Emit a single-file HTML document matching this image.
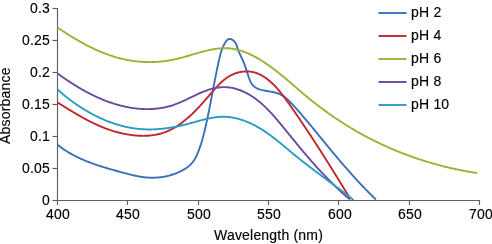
<!DOCTYPE html>
<html><head><meta charset="utf-8"><style>
html,body{margin:0;padding:0;background:#fff;}
body{width:492px;height:244px;position:relative;overflow:hidden;}
.t{position:absolute;font-family:"Liberation Sans",sans-serif;font-size:14px;line-height:15px;color:#000;will-change:transform;letter-spacing:0.2px;-webkit-text-stroke:0.15px #000;white-space:nowrap;transform-origin:50% 50%;}
.yl{right:442px;text-align:right;transform-origin:100% 50%;}
.xl{width:60px;text-align:center;}
.lg{left:411px;transform-origin:0 50%;}
.xt{left:214px;top:228px;transform-origin:0 50%;}
.yt{left:-31.7px;top:99px;width:75px;text-align:center;transform:rotate(-90deg);}
</style></head><body>
<svg width="492" height="244" viewBox="0 0 492 244" style="position:absolute;left:0;top:0"><g stroke="#5f5f5f" stroke-width="1.15" fill="none" ><path d="M57.5,8 V205 M57,200.5 H480"/><path d="M52.5,8.5 H57.5"/><path d="M52.5,40.5 H57.5"/><path d="M52.5,72.5 H57.5"/><path d="M52.5,104.5 H57.5"/><path d="M52.5,136.5 H57.5"/><path d="M52.5,168.5 H57.5"/><path d="M52.5,200.5 H57.5"/><path d="M127.5,200 V205"/><path d="M198.5,200 V205"/><path d="M268.5,200 V205"/><path d="M338.5,200 V205"/><path d="M409.5,200 V205"/><path d="M479.5,200 V205"/></g><path d="M57.54,144.78 L58.36,145.42 L59.18,146.05 L60.01,146.67 L60.84,147.28 L61.67,147.88 L62.51,148.46 L63.35,149.04 L64.20,149.61 L65.05,150.17 L65.90,150.72 L66.76,151.26 L67.62,151.79 L68.48,152.32 L69.35,152.83 L70.22,153.34 L71.09,153.84 L71.97,154.33 L72.85,154.81 L73.73,155.28 L74.62,155.75 L75.51,156.20 L76.40,156.65 L77.30,157.10 L78.20,157.53 L79.10,157.96 L80.00,158.38 L80.91,158.80 L81.82,159.21 L82.73,159.61 L83.65,160.00 L84.56,160.39 L85.48,160.78 L86.40,161.15 L87.33,161.53 L88.26,161.89 L89.18,162.25 L90.12,162.61 L91.05,162.96 L91.99,163.30 L92.92,163.64 L93.86,163.98 L94.80,164.31 L95.75,164.64 L96.69,164.96 L97.64,165.28 L98.59,165.59 L99.54,165.90 L100.49,166.21 L101.45,166.51 L102.40,166.81 L103.36,167.11 L104.32,167.40 L105.28,167.69 L106.24,167.98 L107.20,168.27 L108.17,168.55 L109.13,168.83 L110.10,169.11 L111.07,169.38 L112.04,169.66 L113.01,169.93 L113.98,170.20 L114.95,170.47 L115.92,170.74 L116.89,171.01 L117.87,171.27 L118.84,171.54 L119.82,171.80 L120.79,172.07 L121.77,172.33 L122.75,172.59 L123.72,172.86 L124.70,173.12 L125.68,173.38 L126.66,173.63 L127.64,173.89 L128.62,174.14 L129.60,174.39 L130.58,174.63 L131.56,174.87 L132.54,175.10 L133.53,175.33 L134.51,175.55 L135.49,175.76 L136.48,175.97 L137.47,176.16 L138.45,176.35 L139.44,176.53 L140.43,176.70 L141.41,176.85 L142.40,177.00 L143.39,177.13 L144.38,177.25 L145.37,177.36 L146.37,177.46 L147.36,177.54 L148.35,177.60 L149.35,177.66 L150.34,177.69 L151.33,177.72 L152.33,177.73 L153.32,177.72 L154.32,177.70 L155.31,177.66 L156.31,177.61 L157.30,177.54 L158.29,177.46 L159.28,177.37 L160.27,177.26 L161.26,177.13 L162.25,176.99 L163.24,176.83 L164.22,176.66 L165.20,176.48 L166.18,176.27 L167.16,176.06 L168.14,175.82 L169.11,175.57 L170.08,175.31 L171.05,175.03 L172.01,174.74 L172.97,174.43 L173.93,174.10 L174.88,173.76 L175.84,173.40 L176.78,173.02 L177.73,172.63 L178.67,172.23 L179.60,171.80 L180.52,171.36 L181.44,170.90 L182.34,170.43 L183.23,169.93 L184.11,169.42 L184.98,168.89 L185.83,168.33 L186.66,167.76 L187.47,167.16 L188.26,166.55 L189.03,165.91 L189.78,165.25 L190.50,164.56 L191.20,163.86 L191.87,163.13 L192.51,162.37 L193.12,161.59 L193.70,160.79 L194.24,159.96 L194.76,159.11 L195.26,158.24 L195.73,157.36 L196.17,156.46 L196.60,155.55 L197.02,154.63 L197.42,153.70 L197.81,152.77 L198.19,151.83 L198.57,150.90 L198.93,149.96 L199.28,149.01 L199.63,148.07 L199.96,147.12 L200.29,146.17 L200.61,145.21 L200.93,144.26 L201.23,143.30 L201.53,142.34 L201.82,141.38 L202.11,140.41 L202.39,139.45 L202.66,138.48 L202.93,137.51 L203.19,136.53 L203.45,135.56 L203.70,134.59 L203.95,133.61 L204.19,132.64 L204.43,131.66 L204.67,130.68 L204.90,129.70 L205.13,128.72 L205.35,127.74 L205.58,126.76 L205.80,125.78 L206.02,124.80 L206.23,123.82 L206.45,122.83 L206.66,121.85 L206.87,120.87 L207.08,119.89 L207.29,118.91 L207.50,117.92 L207.70,116.94 L207.91,115.96 L208.11,114.98 L208.31,114.00 L208.51,113.01 L208.71,112.03 L208.91,111.05 L209.10,110.06 L209.30,109.08 L209.49,108.10 L209.69,107.12 L209.88,106.13 L210.07,105.15 L210.27,104.17 L210.46,103.18 L210.65,102.20 L210.84,101.21 L211.03,100.23 L211.21,99.25 L211.40,98.26 L211.59,97.28 L211.78,96.29 L211.97,95.31 L212.15,94.33 L212.34,93.34 L212.53,92.36 L212.72,91.37 L212.90,90.39 L213.09,89.40 L213.28,88.42 L213.47,87.43 L213.66,86.45 L213.85,85.46 L214.04,84.47 L214.23,83.49 L214.42,82.50 L214.61,81.52 L214.80,80.53 L214.99,79.54 L215.18,78.56 L215.38,77.57 L215.57,76.59 L215.77,75.60 L215.96,74.61 L216.16,73.63 L216.36,72.64 L216.56,71.65 L216.76,70.66 L216.97,69.68 L217.17,68.69 L217.38,67.70 L217.58,66.71 L217.79,65.73 L218.00,64.74 L218.21,63.75 L218.43,62.76 L218.64,61.77 L218.86,60.78 L219.08,59.80 L219.30,58.81 L219.53,57.82 L219.76,56.84 L220.00,55.86 L220.25,54.88 L220.52,53.90 L220.79,52.93 L221.08,51.97 L221.39,51.01 L221.71,50.06 L222.06,49.12 L222.42,48.18 L222.81,47.26 L223.22,46.34 L223.65,45.43 L224.11,44.54 L224.60,43.66 L225.13,42.79 L225.68,41.93 L226.27,41.10 L226.90,40.35 L227.60,39.72 L228.36,39.26 L229.20,39.01 L230.12,39.01 L231.08,39.22 L232.04,39.61 L232.95,40.15 L233.78,40.80 L234.50,41.53 L235.12,42.34 L235.65,43.21 L236.12,44.13 L236.52,45.09 L236.89,46.07 L237.23,47.08 L237.56,48.10 L237.88,49.11 L238.22,50.11 L238.59,51.09 L238.97,52.05 L239.37,53.00 L239.78,53.93 L240.21,54.85 L240.64,55.76 L241.07,56.66 L241.51,57.56 L241.93,58.45 L242.36,59.34 L242.77,60.24 L243.16,61.13 L243.54,62.04 L243.91,62.95 L244.26,63.86 L244.60,64.78 L244.93,65.70 L245.25,66.63 L245.57,67.57 L245.88,68.51 L246.19,69.45 L246.50,70.40 L246.80,71.36 L247.11,72.32 L247.42,73.29 L247.74,74.26 L248.07,75.24 L248.40,76.23 L248.74,77.22 L249.10,78.21 L249.48,79.20 L249.87,80.18 L250.29,81.15 L250.74,82.08 L251.23,82.98 L251.76,83.83 L252.33,84.63 L252.96,85.37 L253.63,86.04 L254.35,86.66 L255.11,87.22 L255.91,87.73 L256.75,88.19 L257.62,88.61 L258.53,88.98 L259.46,89.32 L260.41,89.63 L261.39,89.90 L262.39,90.15 L263.40,90.38 L264.42,90.59 L265.45,90.78 L266.49,90.97 L267.52,91.14 L268.56,91.31 L269.60,91.48 L270.63,91.65 L271.65,91.84 L272.66,92.03 L273.66,92.23 L274.65,92.45 L275.62,92.70 L276.58,92.97 L277.52,93.27 L278.45,93.60 L279.35,93.97 L280.24,94.37 L281.10,94.82 L281.95,95.29 L282.78,95.80 L283.59,96.34 L284.39,96.91 L285.17,97.51 L285.94,98.13 L286.70,98.77 L287.45,99.43 L288.18,100.11 L288.91,100.81 L289.63,101.52 L290.34,102.24 L291.04,102.97 L291.74,103.71 L292.43,104.45 L293.12,105.20 L293.81,105.94 L294.49,106.69 L295.17,107.44 L295.85,108.19 L296.53,108.94 L297.20,109.70 L297.87,110.45 L298.54,111.21 L299.21,111.96 L299.87,112.72 L300.54,113.48 L301.20,114.24 L301.86,115.00 L302.51,115.76 L303.17,116.52 L303.82,117.29 L304.47,118.05 L305.12,118.81 L305.77,119.58 L306.42,120.35 L307.07,121.11 L307.71,121.88 L308.35,122.65 L309.00,123.42 L309.64,124.19 L310.28,124.96 L310.92,125.73 L311.56,126.50 L312.19,127.27 L312.83,128.04 L313.47,128.81 L314.10,129.59 L314.74,130.36 L315.37,131.13 L316.00,131.91 L316.64,132.68 L317.27,133.46 L317.90,134.23 L318.54,135.01 L319.17,135.78 L319.80,136.56 L320.44,137.33 L321.07,138.11 L321.71,138.88 L322.34,139.66 L322.97,140.44 L323.61,141.21 L324.24,141.99 L324.88,142.76 L325.52,143.54 L326.15,144.31 L326.79,145.09 L327.43,145.86 L328.06,146.64 L328.70,147.41 L329.34,148.19 L329.98,148.96 L330.62,149.74 L331.26,150.51 L331.90,151.28 L332.54,152.06 L333.19,152.83 L333.83,153.60 L334.47,154.37 L335.12,155.14 L335.76,155.91 L336.41,156.68 L337.06,157.45 L337.70,158.22 L338.35,158.99 L339.00,159.76 L339.65,160.52 L340.30,161.29 L340.96,162.05 L341.61,162.82 L342.26,163.58 L342.92,164.34 L343.57,165.11 L344.23,165.87 L344.89,166.63 L345.55,167.39 L346.21,168.15 L346.87,168.90 L347.53,169.66 L348.20,170.42 L348.86,171.17 L349.53,171.92 L350.19,172.68 L350.86,173.43 L351.53,174.18 L352.20,174.93 L352.87,175.67 L353.55,176.42 L354.22,177.17 L354.90,177.91 L355.58,178.65 L356.25,179.39 L356.93,180.13 L357.62,180.87 L358.30,181.61 L358.98,182.34 L359.67,183.08 L360.36,183.81 L361.05,184.54 L361.74,185.27 L362.43,186.00 L363.12,186.72 L363.82,187.45 L364.52,188.17 L365.21,188.89 L365.91,189.61 L366.62,190.33 L367.32,191.04 L368.03,191.76 L368.73,192.47 L369.44,193.18 L370.15,193.89 L370.87,194.60 L371.58,195.30 L372.30,196.00 L373.01,196.70 L373.73,197.40 L374.46,198.10 L375.18,198.79 L375.91,199.49" fill="none" stroke="#3d6fb6" stroke-width="1.9" stroke-linejoin="round"/><path d="M57.45,102.43 L58.13,102.85 L58.81,103.27 L59.49,103.69 L60.16,104.11 L60.84,104.53 L61.51,104.95 L62.19,105.37 L62.86,105.79 L63.53,106.21 L64.20,106.62 L64.88,107.04 L65.55,107.46 L66.22,107.87 L66.89,108.28 L67.56,108.70 L68.23,109.11 L68.90,109.52 L69.56,109.93 L70.23,110.33 L70.90,110.74 L71.57,111.15 L72.24,111.55 L72.91,111.95 L73.58,112.35 L74.25,112.75 L74.92,113.15 L75.58,113.55 L76.25,113.94 L76.92,114.33 L77.60,114.72 L78.27,115.11 L78.94,115.50 L79.61,115.88 L80.28,116.27 L80.95,116.65 L81.63,117.03 L82.30,117.40 L82.98,117.78 L83.65,118.15 L84.33,118.52 L85.01,118.89 L85.69,119.25 L86.37,119.62 L87.05,119.98 L87.73,120.34 L88.41,120.69 L89.10,121.04 L89.78,121.39 L90.47,121.74 L91.16,122.08 L91.85,122.43 L92.54,122.76 L93.23,123.10 L93.92,123.43 L94.62,123.76 L95.32,124.09 L96.01,124.41 L96.71,124.73 L97.42,125.05 L98.12,125.36 L98.83,125.67 L99.53,125.98 L100.24,126.28 L100.95,126.58 L101.67,126.88 L102.38,127.17 L103.10,127.46 L103.82,127.74 L104.54,128.02 L105.27,128.30 L106.00,128.57 L106.73,128.84 L107.46,129.11 L108.19,129.37 L108.93,129.63 L109.67,129.88 L110.41,130.13 L111.15,130.38 L111.90,130.62 L112.65,130.85 L113.40,131.09 L114.16,131.31 L114.92,131.54 L115.68,131.75 L116.44,131.97 L117.21,132.18 L117.98,132.38 L118.75,132.58 L119.53,132.77 L120.30,132.96 L121.08,133.15 L121.86,133.33 L122.64,133.50 L123.43,133.67 L124.21,133.83 L125.00,133.99 L125.78,134.14 L126.57,134.28 L127.36,134.42 L128.16,134.56 L128.95,134.68 L129.74,134.80 L130.53,134.92 L131.33,135.03 L132.12,135.13 L132.92,135.23 L133.71,135.31 L134.51,135.40 L135.30,135.47 L136.10,135.54 L136.89,135.60 L137.69,135.66 L138.48,135.70 L139.27,135.74 L140.07,135.78 L140.86,135.80 L141.65,135.82 L142.44,135.83 L143.23,135.83 L144.02,135.83 L144.80,135.81 L145.59,135.79 L146.37,135.76 L147.15,135.73 L147.93,135.68 L148.71,135.63 L149.48,135.57 L150.26,135.50 L151.03,135.42 L151.80,135.33 L152.56,135.23 L153.32,135.13 L154.09,135.01 L154.84,134.89 L155.60,134.76 L156.35,134.62 L157.10,134.46 L157.84,134.30 L158.59,134.14 L159.32,133.96 L160.06,133.77 L160.79,133.57 L161.52,133.36 L162.24,133.14 L162.96,132.91 L163.67,132.67 L164.39,132.43 L165.09,132.17 L165.80,131.90 L166.49,131.63 L167.19,131.34 L167.88,131.04 L168.57,130.74 L169.25,130.43 L169.93,130.11 L170.61,129.78 L171.28,129.44 L171.95,129.09 L172.61,128.73 L173.28,128.37 L173.93,128.00 L174.59,127.62 L175.24,127.23 L175.89,126.84 L176.53,126.44 L177.18,126.03 L177.81,125.61 L178.45,125.19 L179.08,124.76 L179.71,124.32 L180.34,123.88 L180.96,123.43 L181.58,122.97 L182.19,122.51 L182.81,122.04 L183.42,121.57 L184.03,121.09 L184.63,120.60 L185.24,120.11 L185.84,119.61 L186.43,119.11 L187.03,118.60 L187.62,118.09 L188.21,117.57 L188.80,117.05 L189.38,116.52 L189.96,115.99 L190.54,115.45 L191.12,114.91 L191.69,114.37 L192.27,113.82 L192.84,113.27 L193.41,112.71 L193.97,112.15 L194.54,111.59 L195.10,111.02 L195.66,110.45 L196.22,109.88 L196.77,109.30 L197.33,108.73 L197.88,108.14 L198.43,107.56 L198.98,106.98 L199.53,106.39 L200.07,105.80 L200.62,105.20 L201.16,104.61 L201.70,104.01 L202.24,103.42 L202.77,102.82 L203.31,102.22 L203.85,101.61 L204.38,101.01 L204.91,100.41 L205.44,99.80 L205.97,99.20 L206.50,98.59 L207.03,97.99 L207.55,97.38 L208.08,96.77 L208.60,96.17 L209.13,95.56 L209.65,94.95 L210.17,94.35 L210.69,93.74 L211.21,93.14 L211.73,92.53 L212.25,91.93 L212.77,91.33 L213.29,90.73 L213.81,90.14 L214.33,89.55 L214.85,88.96 L215.38,88.37 L215.90,87.79 L216.43,87.22 L216.96,86.64 L217.49,86.08 L218.03,85.52 L218.57,84.96 L219.11,84.41 L219.66,83.87 L220.21,83.33 L220.76,82.80 L221.32,82.28 L221.88,81.77 L222.45,81.27 L223.02,80.77 L223.59,80.28 L224.18,79.80 L224.77,79.34 L225.36,78.88 L225.96,78.43 L226.57,77.99 L227.18,77.57 L227.81,77.15 L228.44,76.75 L229.07,76.36 L229.72,75.98 L230.37,75.62 L231.03,75.27 L231.70,74.93 L232.38,74.60 L233.07,74.29 L233.76,74.00 L234.47,73.72 L235.18,73.45 L235.91,73.20 L236.64,72.97 L237.37,72.75 L238.11,72.54 L238.86,72.36 L239.62,72.18 L240.37,72.03 L241.13,71.89 L241.90,71.77 L242.67,71.67 L243.44,71.58 L244.21,71.52 L244.98,71.47 L245.76,71.43 L246.53,71.42 L247.30,71.42 L248.07,71.45 L248.85,71.49 L249.61,71.55 L250.38,71.63 L251.14,71.73 L251.90,71.85 L252.66,71.99 L253.41,72.15 L254.15,72.33 L254.89,72.54 L255.62,72.76 L256.35,73.00 L257.07,73.26 L257.78,73.54 L258.49,73.84 L259.19,74.15 L259.89,74.48 L260.58,74.83 L261.26,75.19 L261.93,75.57 L262.60,75.96 L263.26,76.36 L263.92,76.77 L264.57,77.20 L265.21,77.63 L265.85,78.08 L266.47,78.54 L267.10,79.00 L267.71,79.48 L268.32,79.96 L268.92,80.45 L269.52,80.94 L270.11,81.44 L270.69,81.95 L271.27,82.47 L271.85,83.00 L272.41,83.53 L272.97,84.06 L273.53,84.61 L274.08,85.15 L274.62,85.71 L275.17,86.27 L275.70,86.83 L276.23,87.40 L276.76,87.98 L277.28,88.56 L277.80,89.15 L278.31,89.74 L278.82,90.33 L279.33,90.93 L279.83,91.53 L280.33,92.14 L280.82,92.75 L281.31,93.36 L281.80,93.98 L282.28,94.60 L282.77,95.22 L283.25,95.85 L283.72,96.48 L284.20,97.11 L284.67,97.74 L285.14,98.38 L285.61,99.01 L286.07,99.65 L286.53,100.29 L287.00,100.93 L287.46,101.58 L287.91,102.22 L288.37,102.86 L288.83,103.51 L289.28,104.16 L289.74,104.80 L290.19,105.45 L290.64,106.09 L291.10,106.74 L291.55,107.39 L292.00,108.03 L292.45,108.68 L292.90,109.32 L293.34,109.97 L293.79,110.62 L294.24,111.26 L294.69,111.91 L295.13,112.56 L295.58,113.20 L296.02,113.85 L296.47,114.50 L296.91,115.14 L297.35,115.79 L297.80,116.43 L298.24,117.08 L298.68,117.73 L299.12,118.38 L299.56,119.02 L300.00,119.67 L300.44,120.32 L300.87,120.96 L301.31,121.61 L301.75,122.26 L302.18,122.90 L302.62,123.55 L303.06,124.20 L303.49,124.85 L303.92,125.50 L304.36,126.14 L304.79,126.79 L305.22,127.44 L305.66,128.09 L306.09,128.74 L306.52,129.38 L306.95,130.03 L307.38,130.68 L307.81,131.33 L308.24,131.98 L308.67,132.63 L309.10,133.28 L309.52,133.93 L309.95,134.57 L310.38,135.22 L310.80,135.87 L311.23,136.52 L311.66,137.17 L312.08,137.82 L312.51,138.47 L312.93,139.12 L313.35,139.77 L313.78,140.42 L314.20,141.08 L314.62,141.73 L315.05,142.38 L315.47,143.03 L315.89,143.68 L316.31,144.33 L316.73,144.98 L317.15,145.63 L317.57,146.29 L317.99,146.94 L318.41,147.59 L318.83,148.24 L319.25,148.90 L319.67,149.55 L320.09,150.20 L320.50,150.86 L320.92,151.51 L321.34,152.16 L321.75,152.82 L322.17,153.47 L322.59,154.13 L323.00,154.78 L323.42,155.44 L323.83,156.09 L324.25,156.75 L324.66,157.40 L325.08,158.06 L325.49,158.71 L325.91,159.37 L326.32,160.03 L326.74,160.68 L327.15,161.34 L327.56,162.00 L327.98,162.66 L328.39,163.31 L328.80,163.97 L329.21,164.63 L329.63,165.29 L330.04,165.95 L330.45,166.61 L330.86,167.26 L331.27,167.92 L331.68,168.58 L332.10,169.24 L332.51,169.90 L332.92,170.56 L333.33,171.23 L333.74,171.89 L334.15,172.55 L334.56,173.21 L334.97,173.87 L335.38,174.53 L335.79,175.20 L336.20,175.86 L336.61,176.52 L337.02,177.19 L337.43,177.85 L337.84,178.51 L338.25,179.18 L338.66,179.84 L339.07,180.51 L339.48,181.17 L339.89,181.84 L340.30,182.51 L340.71,183.17 L341.12,183.84 L341.52,184.51 L341.93,185.17 L342.34,185.84 L342.75,186.51 L343.16,187.18 L343.57,187.85 L343.98,188.51 L344.39,189.18 L344.80,189.85 L345.21,190.52 L345.62,191.19 L346.03,191.87 L346.43,192.54 L346.84,193.21 L347.25,193.88 L347.66,194.55 L348.07,195.23 L348.48,195.90 L348.89,196.57 L349.30,197.25 L349.71,197.92 L350.12,198.59 L350.53,199.27" fill="none" stroke="#c0282e" stroke-width="1.9" stroke-linejoin="round"/><path d="M57.56,27.53 L58.30,28.03 L59.04,28.53 L59.78,29.03 L60.52,29.53 L61.27,30.03 L62.02,30.53 L62.78,31.03 L63.53,31.53 L64.30,32.03 L65.06,32.52 L65.83,33.02 L66.60,33.51 L67.37,34.01 L68.15,34.50 L68.93,34.99 L69.71,35.48 L70.50,35.97 L71.29,36.45 L72.08,36.94 L72.87,37.42 L73.67,37.90 L74.47,38.38 L75.27,38.86 L76.08,39.33 L76.88,39.80 L77.69,40.27 L78.51,40.74 L79.32,41.20 L80.14,41.66 L80.96,42.12 L81.78,42.58 L82.61,43.03 L83.44,43.48 L84.27,43.92 L85.10,44.37 L85.93,44.81 L86.77,45.24 L87.61,45.67 L88.45,46.10 L89.29,46.53 L90.13,46.95 L90.98,47.37 L91.83,47.78 L92.68,48.19 L93.53,48.59 L94.39,48.99 L95.24,49.39 L96.10,49.78 L96.96,50.16 L97.82,50.55 L98.69,50.92 L99.55,51.30 L100.42,51.66 L101.29,52.02 L102.16,52.38 L103.03,52.73 L103.90,53.08 L104.77,53.42 L105.65,53.75 L106.53,54.08 L107.40,54.41 L108.28,54.72 L109.16,55.03 L110.04,55.34 L110.93,55.64 L111.81,55.93 L112.70,56.22 L113.58,56.50 L114.47,56.77 L115.36,57.04 L116.25,57.30 L117.14,57.55 L118.03,57.80 L118.92,58.04 L119.81,58.27 L120.71,58.50 L121.60,58.72 L122.50,58.93 L123.39,59.14 L124.29,59.33 L125.19,59.53 L126.09,59.71 L126.98,59.89 L127.88,60.06 L128.79,60.23 L129.69,60.38 L130.59,60.54 L131.49,60.68 L132.40,60.82 L133.30,60.95 L134.21,61.07 L135.11,61.19 L136.02,61.30 L136.93,61.40 L137.84,61.49 L138.74,61.58 L139.65,61.66 L140.56,61.74 L141.47,61.80 L142.38,61.86 L143.29,61.92 L144.21,61.96 L145.12,62.00 L146.03,62.03 L146.95,62.06 L147.86,62.07 L148.77,62.08 L149.69,62.08 L150.60,62.08 L151.52,62.07 L152.44,62.05 L153.35,62.02 L154.27,61.99 L155.19,61.95 L156.10,61.90 L157.02,61.84 L157.94,61.78 L158.86,61.71 L159.78,61.63 L160.70,61.55 L161.62,61.46 L162.54,61.36 L163.46,61.25 L164.38,61.13 L165.30,61.01 L166.22,60.88 L167.14,60.75 L168.06,60.60 L168.98,60.45 L169.90,60.29 L170.82,60.12 L171.75,59.95 L172.67,59.77 L173.59,59.58 L174.51,59.38 L175.43,59.18 L176.35,58.96 L177.28,58.75 L178.20,58.52 L179.12,58.29 L180.04,58.05 L180.97,57.81 L181.89,57.57 L182.81,57.32 L183.73,57.06 L184.65,56.81 L185.57,56.55 L186.49,56.28 L187.41,56.02 L188.34,55.75 L189.26,55.48 L190.18,55.21 L191.09,54.94 L192.01,54.67 L192.93,54.40 L193.85,54.13 L194.77,53.86 L195.69,53.59 L196.60,53.33 L197.52,53.06 L198.44,52.80 L199.35,52.54 L200.27,52.29 L201.18,52.04 L202.10,51.79 L203.01,51.55 L203.92,51.31 L204.83,51.08 L205.75,50.86 L206.66,50.64 L207.57,50.42 L208.48,50.22 L209.38,50.02 L210.29,49.83 L211.20,49.65 L212.10,49.47 L213.01,49.31 L213.91,49.15 L214.82,49.01 L215.72,48.87 L216.62,48.75 L217.52,48.63 L218.42,48.53 L219.32,48.44 L220.21,48.37 L221.11,48.30 L222.00,48.25 L222.90,48.21 L223.79,48.19 L224.68,48.18 L225.57,48.18 L226.46,48.20 L227.35,48.24 L228.24,48.29 L229.12,48.35 L230.01,48.44 L230.89,48.54 L231.77,48.65 L232.65,48.78 L233.53,48.93 L234.40,49.09 L235.28,49.27 L236.15,49.45 L237.02,49.66 L237.89,49.88 L238.76,50.11 L239.63,50.35 L240.49,50.61 L241.35,50.88 L242.21,51.16 L243.07,51.46 L243.93,51.76 L244.78,52.08 L245.64,52.41 L246.49,52.76 L247.34,53.11 L248.18,53.47 L249.02,53.84 L249.87,54.23 L250.70,54.62 L251.54,55.02 L252.38,55.44 L253.21,55.86 L254.04,56.29 L254.86,56.73 L255.69,57.17 L256.51,57.63 L257.32,58.09 L258.14,58.56 L258.95,59.04 L259.76,59.52 L260.57,60.02 L261.37,60.51 L262.17,61.02 L262.97,61.53 L263.77,62.04 L264.56,62.56 L265.35,63.09 L266.13,63.62 L266.92,64.16 L267.69,64.69 L268.47,65.24 L269.24,65.79 L270.01,66.34 L270.78,66.89 L271.54,67.45 L272.30,68.01 L273.05,68.57 L273.80,69.14 L274.55,69.71 L275.30,70.28 L276.04,70.85 L276.78,71.42 L277.51,72.00 L278.25,72.58 L278.98,73.16 L279.71,73.75 L280.44,74.33 L281.16,74.92 L281.88,75.51 L282.60,76.10 L283.32,76.69 L284.04,77.28 L284.75,77.88 L285.46,78.47 L286.18,79.07 L286.89,79.67 L287.59,80.27 L288.30,80.87 L289.01,81.47 L289.71,82.07 L290.42,82.67 L291.12,83.27 L291.82,83.87 L292.52,84.48 L293.23,85.08 L293.93,85.68 L294.63,86.29 L295.33,86.89 L296.03,87.50 L296.73,88.10 L297.43,88.70 L298.13,89.31 L298.83,89.91 L299.53,90.51 L300.23,91.11 L300.94,91.71 L301.64,92.31 L302.34,92.91 L303.05,93.51 L303.75,94.11 L304.46,94.70 L305.17,95.30 L305.88,95.89 L306.59,96.48 L307.30,97.07 L308.02,97.66 L308.73,98.25 L309.45,98.83 L310.17,99.42 L310.89,100.00 L311.61,100.58 L312.34,101.16 L313.06,101.74 L313.79,102.31 L314.52,102.88 L315.25,103.46 L315.98,104.03 L316.72,104.60 L317.45,105.16 L318.19,105.73 L318.93,106.29 L319.67,106.85 L320.41,107.41 L321.15,107.97 L321.90,108.53 L322.64,109.08 L323.39,109.63 L324.14,110.18 L324.89,110.73 L325.64,111.28 L326.40,111.82 L327.15,112.37 L327.91,112.91 L328.67,113.45 L329.43,113.98 L330.19,114.52 L330.95,115.05 L331.72,115.58 L332.48,116.11 L333.25,116.64 L334.02,117.17 L334.79,117.69 L335.56,118.21 L336.33,118.73 L337.11,119.25 L337.88,119.76 L338.66,120.28 L339.43,120.79 L340.21,121.30 L340.99,121.80 L341.78,122.31 L342.56,122.81 L343.34,123.31 L344.13,123.81 L344.92,124.31 L345.71,124.80 L346.50,125.29 L347.29,125.78 L348.08,126.27 L348.87,126.76 L349.67,127.24 L350.46,127.72 L351.26,128.20 L352.06,128.68 L352.86,129.15 L353.66,129.62 L354.46,130.09 L355.27,130.56 L356.07,131.03 L356.88,131.49 L357.68,131.95 L358.49,132.41 L359.30,132.86 L360.11,133.32 L360.92,133.77 L361.73,134.22 L362.55,134.67 L363.36,135.11 L364.18,135.55 L365.00,135.99 L365.81,136.43 L366.63,136.87 L367.45,137.30 L368.27,137.73 L369.10,138.16 L369.92,138.58 L370.75,139.01 L371.57,139.43 L372.40,139.85 L373.23,140.27 L374.06,140.68 L374.89,141.09 L375.72,141.50 L376.55,141.91 L377.38,142.32 L378.22,142.72 L379.05,143.12 L379.89,143.52 L380.73,143.91 L381.57,144.31 L382.41,144.70 L383.25,145.09 L384.09,145.47 L384.93,145.86 L385.77,146.24 L386.62,146.62 L387.46,147.00 L388.31,147.37 L389.16,147.75 L390.01,148.12 L390.86,148.48 L391.71,148.85 L392.56,149.21 L393.41,149.57 L394.27,149.93 L395.12,150.29 L395.98,150.64 L396.83,151.00 L397.69,151.35 L398.55,151.69 L399.41,152.04 L400.27,152.38 L401.13,152.72 L401.99,153.06 L402.85,153.39 L403.72,153.73 L404.58,154.06 L405.45,154.39 L406.32,154.71 L407.18,155.04 L408.05,155.36 L408.92,155.68 L409.79,155.99 L410.66,156.31 L411.53,156.62 L412.41,156.93 L413.28,157.24 L414.16,157.54 L415.03,157.85 L415.91,158.15 L416.78,158.45 L417.66,158.74 L418.54,159.04 L419.42,159.33 L420.30,159.62 L421.18,159.90 L422.07,160.19 L422.95,160.47 L423.83,160.75 L424.72,161.02 L425.60,161.30 L426.49,161.57 L427.38,161.84 L428.26,162.11 L429.15,162.37 L430.04,162.64 L430.93,162.90 L431.82,163.16 L432.72,163.41 L433.61,163.67 L434.50,163.92 L435.40,164.17 L436.29,164.41 L437.19,164.66 L438.08,164.90 L438.98,165.14 L439.88,165.38 L440.78,165.61 L441.68,165.84 L442.58,166.07 L443.48,166.30 L444.38,166.53 L445.28,166.75 L446.18,166.97 L447.09,167.19 L447.99,167.41 L448.90,167.62 L449.80,167.83 L450.71,168.04 L451.61,168.25 L452.52,168.45 L453.43,168.65 L454.34,168.85 L455.25,169.05 L456.16,169.24 L457.07,169.44 L457.98,169.63 L458.89,169.82 L459.81,170.00 L460.72,170.18 L461.63,170.36 L462.55,170.54 L463.47,170.72 L464.38,170.89 L465.30,171.06 L466.22,171.23 L467.13,171.40 L468.05,171.56 L468.97,171.72 L469.89,171.88 L470.81,172.04 L471.73,172.20 L472.65,172.35 L473.57,172.50 L474.50,172.65 L475.42,172.79 L476.34,172.93 L477.27,173.07" fill="none" stroke="#94b634" stroke-width="1.9" stroke-linejoin="round"/><path d="M57.61,73.48 L58.16,73.89 L58.71,74.29 L59.26,74.69 L59.81,75.09 L60.37,75.49 L60.92,75.89 L61.48,76.29 L62.04,76.69 L62.61,77.08 L63.17,77.48 L63.74,77.87 L64.30,78.27 L64.87,78.66 L65.44,79.05 L66.02,79.44 L66.59,79.83 L67.17,80.22 L67.74,80.61 L68.32,81.00 L68.91,81.38 L69.49,81.77 L70.07,82.15 L70.66,82.53 L71.25,82.91 L71.84,83.29 L72.43,83.67 L73.02,84.05 L73.62,84.42 L74.21,84.79 L74.81,85.16 L75.41,85.53 L76.01,85.90 L76.61,86.27 L77.22,86.64 L77.82,87.00 L78.43,87.36 L79.04,87.72 L79.65,88.08 L80.26,88.44 L80.87,88.79 L81.48,89.14 L82.10,89.49 L82.72,89.84 L83.33,90.19 L83.95,90.53 L84.58,90.88 L85.20,91.22 L85.82,91.56 L86.45,91.89 L87.07,92.23 L87.70,92.56 L88.33,92.89 L88.96,93.21 L89.59,93.54 L90.23,93.86 L90.86,94.18 L91.50,94.50 L92.13,94.81 L92.77,95.13 L93.41,95.44 L94.05,95.75 L94.69,96.05 L95.34,96.35 L95.98,96.65 L96.63,96.95 L97.27,97.24 L97.92,97.54 L98.57,97.82 L99.22,98.11 L99.87,98.39 L100.52,98.67 L101.17,98.95 L101.83,99.23 L102.48,99.50 L103.14,99.77 L103.80,100.03 L104.46,100.29 L105.12,100.55 L105.78,100.81 L106.44,101.06 L107.10,101.31 L107.76,101.56 L108.43,101.80 L109.09,102.04 L109.76,102.27 L110.43,102.51 L111.10,102.74 L111.76,102.96 L112.43,103.19 L113.11,103.40 L113.78,103.62 L114.45,103.83 L115.12,104.04 L115.80,104.24 L116.47,104.44 L117.15,104.64 L117.83,104.83 L118.50,105.02 L119.18,105.21 L119.86,105.39 L120.54,105.57 L121.22,105.74 L121.90,105.91 L122.58,106.08 L123.27,106.24 L123.95,106.40 L124.63,106.55 L125.32,106.70 L126.00,106.85 L126.69,106.99 L127.38,107.13 L128.06,107.26 L128.75,107.39 L129.44,107.51 L130.13,107.63 L130.82,107.75 L131.51,107.86 L132.20,107.97 L132.89,108.07 L133.58,108.17 L134.28,108.26 L134.97,108.35 L135.66,108.43 L136.36,108.51 L137.05,108.58 L137.75,108.65 L138.44,108.72 L139.14,108.78 L139.83,108.84 L140.53,108.89 L141.23,108.93 L141.92,108.97 L142.62,109.01 L143.32,109.04 L144.02,109.06 L144.72,109.09 L145.41,109.10 L146.11,109.11 L146.81,109.12 L147.51,109.12 L148.21,109.11 L148.91,109.10 L149.60,109.09 L150.30,109.06 L151.00,109.04 L151.70,109.01 L152.40,108.97 L153.09,108.93 L153.79,108.88 L154.49,108.82 L155.18,108.76 L155.88,108.70 L156.57,108.63 L157.27,108.55 L157.96,108.47 L158.65,108.38 L159.35,108.29 L160.04,108.19 L160.73,108.08 L161.42,107.97 L162.11,107.85 L162.80,107.73 L163.48,107.60 L164.17,107.47 L164.86,107.33 L165.54,107.18 L166.23,107.03 L166.91,106.87 L167.59,106.70 L168.27,106.53 L168.95,106.35 L169.63,106.16 L170.30,105.97 L170.98,105.78 L171.65,105.57 L172.32,105.36 L172.99,105.15 L173.66,104.92 L174.33,104.69 L175.00,104.46 L175.66,104.21 L176.33,103.97 L176.99,103.71 L177.65,103.45 L178.31,103.19 L178.97,102.91 L179.62,102.64 L180.28,102.36 L180.93,102.08 L181.59,101.79 L182.24,101.50 L182.89,101.20 L183.54,100.90 L184.19,100.60 L184.84,100.30 L185.49,99.99 L186.14,99.68 L186.79,99.37 L187.43,99.06 L188.08,98.75 L188.73,98.43 L189.38,98.12 L190.02,97.80 L190.67,97.49 L191.31,97.17 L191.96,96.86 L192.61,96.54 L193.25,96.23 L193.90,95.92 L194.55,95.61 L195.19,95.30 L195.84,94.99 L196.49,94.68 L197.14,94.38 L197.78,94.08 L198.43,93.78 L199.08,93.49 L199.73,93.20 L200.39,92.91 L201.04,92.63 L201.69,92.35 L202.35,92.07 L203.00,91.80 L203.66,91.54 L204.32,91.28 L204.97,91.03 L205.63,90.78 L206.29,90.54 L206.96,90.30 L207.62,90.08 L208.29,89.86 L208.95,89.64 L209.62,89.44 L210.29,89.24 L210.97,89.05 L211.64,88.86 L212.31,88.69 L212.99,88.52 L213.67,88.37 L214.35,88.22 L215.03,88.08 L215.71,87.95 L216.39,87.83 L217.08,87.71 L217.76,87.61 L218.45,87.52 L219.13,87.44 L219.82,87.36 L220.50,87.30 L221.19,87.25 L221.88,87.21 L222.57,87.17 L223.25,87.15 L223.94,87.14 L224.63,87.14 L225.31,87.16 L226.00,87.18 L226.69,87.22 L227.37,87.26 L228.06,87.32 L228.74,87.39 L229.43,87.47 L230.11,87.57 L230.79,87.67 L231.48,87.79 L232.16,87.92 L232.83,88.05 L233.51,88.20 L234.19,88.36 L234.86,88.53 L235.53,88.71 L236.20,88.90 L236.87,89.10 L237.54,89.31 L238.20,89.53 L238.86,89.76 L239.52,90.00 L240.18,90.24 L240.83,90.50 L241.48,90.76 L242.13,91.03 L242.77,91.31 L243.41,91.59 L244.05,91.89 L244.68,92.19 L245.31,92.50 L245.94,92.81 L246.56,93.13 L247.18,93.46 L247.79,93.80 L248.40,94.14 L249.01,94.48 L249.61,94.84 L250.21,95.20 L250.81,95.56 L251.40,95.93 L251.98,96.31 L252.57,96.69 L253.15,97.08 L253.72,97.48 L254.30,97.87 L254.86,98.28 L255.43,98.69 L255.99,99.10 L256.55,99.52 L257.11,99.95 L257.66,100.38 L258.21,100.81 L258.75,101.25 L259.30,101.69 L259.84,102.14 L260.37,102.59 L260.91,103.05 L261.44,103.51 L261.96,103.97 L262.49,104.44 L263.01,104.91 L263.53,105.39 L264.05,105.87 L264.56,106.35 L265.08,106.84 L265.58,107.33 L266.09,107.83 L266.60,108.32 L267.10,108.82 L267.60,109.33 L268.10,109.83 L268.59,110.34 L269.08,110.85 L269.57,111.37 L270.06,111.89 L270.55,112.41 L271.04,112.93 L271.52,113.45 L272.00,113.98 L272.48,114.51 L272.96,115.04 L273.43,115.57 L273.91,116.11 L274.38,116.65 L274.85,117.18 L275.32,117.72 L275.79,118.27 L276.26,118.81 L276.72,119.35 L277.19,119.90 L277.65,120.45 L278.11,120.99 L278.57,121.54 L279.03,122.09 L279.49,122.64 L279.95,123.19 L280.41,123.75 L280.86,124.30 L281.32,124.85 L281.77,125.40 L282.22,125.96 L282.68,126.51 L283.13,127.06 L283.58,127.62 L284.03,128.17 L284.48,128.72 L284.93,129.28 L285.38,129.83 L285.83,130.38 L286.28,130.93 L286.73,131.48 L287.17,132.04 L287.62,132.59 L288.07,133.14 L288.52,133.68 L288.96,134.23 L289.41,134.78 L289.86,135.33 L290.30,135.88 L290.75,136.43 L291.20,136.97 L291.64,137.52 L292.09,138.07 L292.53,138.61 L292.98,139.16 L293.42,139.70 L293.87,140.24 L294.31,140.79 L294.76,141.33 L295.20,141.87 L295.65,142.42 L296.10,142.96 L296.54,143.50 L296.99,144.04 L297.43,144.58 L297.88,145.12 L298.32,145.66 L298.77,146.20 L299.21,146.74 L299.66,147.27 L300.11,147.81 L300.55,148.35 L301.00,148.88 L301.45,149.42 L301.89,149.96 L302.34,150.49 L302.79,151.02 L303.24,151.56 L303.69,152.09 L304.13,152.62 L304.58,153.16 L305.03,153.69 L305.48,154.22 L305.93,154.75 L306.38,155.28 L306.83,155.81 L307.29,156.34 L307.74,156.86 L308.19,157.39 L308.64,157.92 L309.10,158.44 L309.55,158.97 L310.01,159.49 L310.46,160.02 L310.92,160.54 L311.37,161.07 L311.83,161.59 L312.29,162.11 L312.75,162.63 L313.21,163.15 L313.67,163.67 L314.13,164.19 L314.59,164.71 L315.05,165.23 L315.51,165.75 L315.98,166.27 L316.44,166.78 L316.91,167.30 L317.37,167.81 L317.84,168.33 L318.31,168.84 L318.78,169.36 L319.24,169.87 L319.72,170.38 L320.19,170.89 L320.66,171.40 L321.13,171.91 L321.61,172.42 L322.08,172.93 L322.56,173.44 L323.04,173.95 L323.52,174.45 L324.00,174.96 L324.48,175.46 L324.96,175.97 L325.44,176.47 L325.93,176.98 L326.41,177.48 L326.90,177.98 L327.39,178.48 L327.88,178.98 L328.37,179.48 L328.86,179.98 L329.35,180.48 L329.84,180.98 L330.34,181.47 L330.84,181.97 L331.33,182.46 L331.83,182.96 L332.34,183.45 L332.84,183.95 L333.34,184.44 L333.85,184.93 L334.35,185.42 L334.86,185.91 L335.37,186.40 L335.88,186.89 L336.40,187.38 L336.91,187.86 L337.43,188.35 L337.94,188.83 L338.46,189.32 L338.98,189.80 L339.50,190.29 L340.03,190.77 L340.55,191.25 L341.08,191.73 L341.61,192.21 L342.14,192.69 L342.67,193.17 L343.21,193.64 L343.74,194.12 L344.28,194.60 L344.82,195.07 L345.36,195.54 L345.90,196.02 L346.45,196.49 L347.00,196.96 L347.55,197.43 L348.10,197.90 L348.65,198.37 L349.20,198.84 L349.76,199.31" fill="none" stroke="#6c4a9c" stroke-width="1.9" stroke-linejoin="round"/><path d="M57.61,89.53 L58.10,89.96 L58.58,90.40 L59.07,90.83 L59.56,91.27 L60.05,91.70 L60.55,92.13 L61.04,92.56 L61.54,92.99 L62.04,93.41 L62.55,93.84 L63.05,94.27 L63.56,94.69 L64.07,95.11 L64.58,95.53 L65.09,95.95 L65.61,96.37 L66.12,96.78 L66.64,97.20 L67.17,97.61 L67.69,98.02 L68.21,98.43 L68.74,98.84 L69.27,99.24 L69.80,99.65 L70.34,100.05 L70.87,100.45 L71.41,100.85 L71.95,101.25 L72.49,101.65 L73.03,102.04 L73.57,102.43 L74.12,102.82 L74.67,103.21 L75.22,103.60 L75.77,103.98 L76.32,104.37 L76.88,104.75 L77.44,105.13 L78.00,105.50 L78.56,105.88 L79.12,106.25 L79.68,106.62 L80.25,106.99 L80.81,107.36 L81.38,107.72 L81.95,108.08 L82.53,108.44 L83.10,108.80 L83.67,109.16 L84.25,109.51 L84.83,109.86 L85.41,110.21 L85.99,110.56 L86.57,110.90 L87.16,111.24 L87.74,111.58 L88.33,111.92 L88.92,112.25 L89.51,112.59 L90.10,112.92 L90.70,113.24 L91.29,113.57 L91.89,113.89 L92.48,114.21 L93.08,114.52 L93.68,114.84 L94.28,115.15 L94.89,115.46 L95.49,115.76 L96.10,116.07 L96.70,116.37 L97.31,116.67 L97.92,116.96 L98.53,117.25 L99.14,117.54 L99.75,117.83 L100.37,118.11 L100.98,118.39 L101.60,118.67 L102.22,118.94 L102.83,119.22 L103.45,119.48 L104.07,119.75 L104.70,120.01 L105.32,120.27 L105.94,120.53 L106.57,120.78 L107.19,121.03 L107.82,121.28 L108.45,121.52 L109.08,121.76 L109.71,122.00 L110.34,122.23 L110.97,122.46 L111.60,122.69 L112.24,122.92 L112.87,123.14 L113.51,123.35 L114.14,123.57 L114.78,123.78 L115.42,123.98 L116.06,124.19 L116.70,124.39 L117.34,124.58 L117.98,124.78 L118.62,124.97 L119.27,125.15 L119.91,125.33 L120.55,125.51 L121.20,125.69 L121.84,125.86 L122.49,126.03 L123.14,126.19 L123.79,126.35 L124.43,126.51 L125.08,126.66 L125.73,126.81 L126.38,126.95 L127.04,127.09 L127.69,127.23 L128.34,127.36 L128.99,127.49 L129.64,127.62 L130.30,127.74 L130.95,127.85 L131.61,127.97 L132.26,128.08 L132.92,128.18 L133.57,128.28 L134.23,128.38 L134.89,128.47 L135.55,128.56 L136.20,128.64 L136.86,128.72 L137.52,128.80 L138.18,128.87 L138.84,128.94 L139.50,129.00 L140.16,129.06 L140.82,129.11 L141.48,129.16 L142.14,129.21 L142.80,129.25 L143.46,129.29 L144.12,129.32 L144.78,129.35 L145.45,129.37 L146.11,129.40 L146.77,129.41 L147.43,129.43 L148.10,129.43 L148.76,129.44 L149.42,129.44 L150.09,129.44 L150.75,129.43 L151.42,129.42 L152.08,129.41 L152.75,129.39 L153.41,129.37 L154.07,129.34 L154.74,129.31 L155.40,129.28 L156.07,129.25 L156.74,129.21 L157.40,129.16 L158.07,129.12 L158.73,129.07 L159.40,129.01 L160.06,128.95 L160.73,128.89 L161.40,128.83 L162.06,128.76 L162.73,128.69 L163.40,128.62 L164.06,128.54 L164.73,128.46 L165.40,128.38 L166.06,128.29 L166.73,128.20 L167.40,128.11 L168.06,128.01 L168.73,127.91 L169.40,127.81 L170.06,127.71 L170.73,127.60 L171.40,127.49 L172.06,127.38 L172.73,127.26 L173.40,127.14 L174.06,127.02 L174.73,126.89 L175.40,126.77 L176.06,126.64 L176.73,126.50 L177.40,126.37 L178.06,126.23 L178.73,126.09 L179.39,125.95 L180.06,125.80 L180.73,125.65 L181.39,125.50 L182.06,125.35 L182.72,125.19 L183.39,125.03 L184.05,124.87 L184.72,124.71 L185.38,124.55 L186.05,124.38 L186.71,124.21 L187.38,124.04 L188.04,123.86 L188.70,123.69 L189.37,123.51 L190.03,123.33 L190.70,123.15 L191.36,122.97 L192.02,122.79 L192.68,122.61 L193.35,122.42 L194.01,122.24 L194.67,122.06 L195.33,121.87 L195.99,121.69 L196.66,121.51 L197.32,121.32 L197.98,121.14 L198.64,120.96 L199.30,120.78 L199.96,120.61 L200.62,120.43 L201.28,120.26 L201.94,120.08 L202.60,119.91 L203.26,119.74 L203.92,119.58 L204.58,119.42 L205.23,119.26 L205.89,119.10 L206.55,118.95 L207.21,118.80 L207.86,118.65 L208.52,118.51 L209.18,118.37 L209.83,118.24 L210.49,118.11 L211.15,117.98 L211.80,117.87 L212.46,117.75 L213.11,117.64 L213.77,117.54 L214.42,117.44 L215.07,117.35 L215.73,117.26 L216.38,117.18 L217.03,117.11 L217.69,117.04 L218.34,116.98 L218.99,116.93 L219.64,116.88 L220.30,116.84 L220.95,116.81 L221.60,116.79 L222.25,116.77 L222.90,116.76 L223.55,116.77 L224.20,116.77 L224.85,116.79 L225.49,116.82 L226.14,116.85 L226.79,116.89 L227.44,116.94 L228.08,116.99 L228.73,117.06 L229.37,117.13 L230.02,117.21 L230.66,117.29 L231.31,117.38 L231.95,117.49 L232.59,117.59 L233.23,117.71 L233.87,117.83 L234.51,117.96 L235.15,118.09 L235.79,118.23 L236.42,118.38 L237.06,118.53 L237.69,118.70 L238.33,118.86 L238.96,119.04 L239.59,119.22 L240.22,119.40 L240.85,119.60 L241.48,119.79 L242.10,120.00 L242.73,120.21 L243.35,120.42 L243.97,120.64 L244.60,120.87 L245.22,121.10 L245.83,121.34 L246.45,121.59 L247.07,121.84 L247.68,122.09 L248.29,122.35 L248.90,122.61 L249.51,122.88 L250.12,123.16 L250.73,123.44 L251.33,123.72 L251.94,124.01 L252.54,124.30 L253.14,124.60 L253.74,124.90 L254.33,125.21 L254.93,125.52 L255.52,125.83 L256.11,126.15 L256.70,126.47 L257.28,126.80 L257.87,127.13 L258.45,127.47 L259.03,127.81 L259.61,128.15 L260.19,128.49 L260.76,128.84 L261.33,129.20 L261.90,129.55 L262.47,129.91 L263.04,130.28 L263.60,130.64 L264.17,131.01 L264.73,131.38 L265.29,131.76 L265.85,132.14 L266.40,132.52 L266.96,132.90 L267.51,133.29 L268.06,133.68 L268.61,134.07 L269.16,134.46 L269.71,134.86 L270.26,135.26 L270.80,135.66 L271.34,136.06 L271.89,136.47 L272.43,136.88 L272.97,137.29 L273.51,137.70 L274.04,138.11 L274.58,138.52 L275.12,138.94 L275.65,139.36 L276.18,139.78 L276.72,140.20 L277.25,140.62 L277.78,141.05 L278.31,141.47 L278.84,141.90 L279.37,142.33 L279.89,142.75 L280.42,143.18 L280.95,143.61 L281.47,144.05 L282.00,144.48 L282.52,144.91 L283.05,145.34 L283.57,145.78 L284.09,146.21 L284.61,146.65 L285.14,147.08 L285.66,147.52 L286.18,147.95 L286.70,148.39 L287.22,148.83 L287.74,149.26 L288.27,149.70 L288.79,150.13 L289.31,150.57 L289.83,151.00 L290.35,151.44 L290.87,151.87 L291.39,152.31 L291.91,152.74 L292.43,153.17 L292.95,153.61 L293.47,154.04 L294.00,154.47 L294.52,154.90 L295.04,155.32 L295.56,155.75 L296.08,156.18 L296.61,156.60 L297.13,157.03 L297.66,157.45 L298.18,157.87 L298.70,158.29 L299.23,158.71 L299.75,159.13 L300.28,159.55 L300.81,159.97 L301.33,160.39 L301.86,160.80 L302.38,161.22 L302.91,161.63 L303.44,162.05 L303.97,162.46 L304.49,162.87 L305.02,163.28 L305.55,163.69 L306.08,164.10 L306.61,164.51 L307.13,164.92 L307.66,165.33 L308.19,165.74 L308.72,166.14 L309.25,166.55 L309.78,166.96 L310.31,167.36 L310.84,167.77 L311.37,168.17 L311.90,168.57 L312.44,168.98 L312.97,169.38 L313.50,169.78 L314.03,170.18 L314.56,170.58 L315.09,170.99 L315.63,171.39 L316.16,171.79 L316.69,172.19 L317.22,172.59 L317.76,172.98 L318.29,173.38 L318.82,173.78 L319.35,174.18 L319.89,174.58 L320.42,174.98 L320.95,175.37 L321.49,175.77 L322.02,176.17 L322.55,176.57 L323.09,176.96 L323.62,177.36 L324.16,177.76 L324.69,178.16 L325.22,178.55 L325.76,178.95 L326.29,179.35 L326.83,179.74 L327.36,180.14 L327.90,180.54 L328.43,180.93 L328.96,181.33 L329.50,181.73 L330.03,182.13 L330.57,182.52 L331.10,182.92 L331.64,183.32 L332.17,183.72 L332.71,184.11 L333.24,184.51 L333.78,184.91 L334.31,185.31 L334.85,185.71 L335.38,186.11 L335.91,186.51 L336.45,186.91 L336.98,187.31 L337.52,187.71 L338.05,188.11 L338.59,188.51 L339.12,188.91 L339.66,189.32 L340.19,189.72 L340.72,190.12 L341.26,190.53 L341.79,190.93 L342.33,191.34 L342.86,191.74 L343.39,192.15 L343.93,192.55 L344.46,192.96 L345.00,193.37 L345.53,193.78 L346.06,194.18 L346.59,194.59 L347.13,195.00 L347.66,195.42 L348.19,195.83 L348.73,196.24 L349.26,196.65 L349.79,197.07 L350.32,197.48 L350.86,197.90 L351.39,198.31 L351.92,198.73 L352.45,199.15 L352.98,199.57 L353.51,199.99" fill="none" stroke="#2b9cc4" stroke-width="1.9" stroke-linejoin="round"/><path d="M378.5,13.0 H406.5" stroke="#3d6fb6" stroke-width="1.9"/><path d="M378.5,36.0 H406.5" stroke="#c0282e" stroke-width="1.9"/><path d="M378.5,59.0 H406.5" stroke="#94b634" stroke-width="1.9"/><path d="M378.5,82.0 H406.5" stroke="#6c4a9c" stroke-width="1.9"/><path d="M378.5,105.0 H406.5" stroke="#2b9cc4" stroke-width="1.9"/></svg>
<div class="t yl" style="top:192.9px">0</div><div class="t yl" style="top:160.9px">0.05</div><div class="t yl" style="top:128.9px">0.1</div><div class="t yl" style="top:96.9px">0.15</div><div class="t yl" style="top:64.9px">0.2</div><div class="t yl" style="top:32.9px">0.25</div><div class="t yl" style="top:0.9px">0.3</div><div class="t xl" style="left:27.7px;top:206.5px">400</div><div class="t xl" style="left:98.2px;top:206.5px">450</div><div class="t xl" style="left:168.7px;top:206.5px">500</div><div class="t xl" style="left:239.2px;top:206.5px">550</div><div class="t xl" style="left:309.7px;top:206.5px">600</div><div class="t xl" style="left:380.2px;top:206.5px">650</div><div class="t xl" style="left:450.7px;top:206.5px">700</div><div class="t lg" style="top:5.2px">pH 2</div><div class="t lg" style="top:28.2px">pH 4</div><div class="t lg" style="top:51.2px">pH 6</div><div class="t lg" style="top:74.2px">pH 8</div><div class="t lg" style="top:97.2px">pH 10</div><div class="t xt">Wavelength (nm)</div><div class="t yt">Absorbance</div>
</body></html>
